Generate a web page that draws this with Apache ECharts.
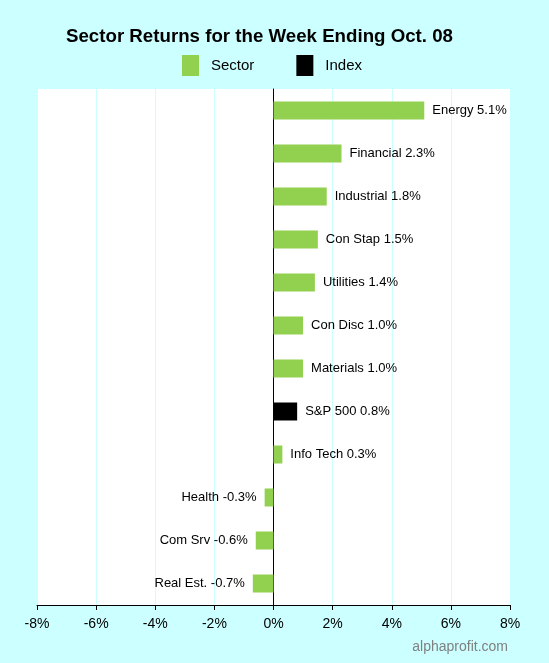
<!DOCTYPE html>
<html>
<head>
<meta charset="utf-8">
<script src="https://cdn.jsdelivr.net/npm/echarts@6/dist/echarts.min.js"></script>
<style>
  html, body { margin: 0; padding: 0; background: #ccffff; }
  #chart { width: 549px; height: 663px; }
</style>
</head>
<body>
<div id="chart"></div>
<script>
// 板块名称（从上到下）
var sectors = ['Energy', 'Financial', 'Industrial', 'Con Stap', 'Utilities', 'Con Disc', 'Materials', 'S&P 500', 'Info Tech', 'Health', 'Com Srv', 'Real Est.']
// 周收益率 %
var returns = [5.1, 2.3, 1.8, 1.5, 1.4, 1.0, 1.0, 0.8, 0.3, -0.3, -0.6, -0.7]
var indexName = 'S&P 500'
var tickLabels = ['-8%', '-6%', '-4%', '-2%', '0%', '2%', '4%', '6%', '8%']

var chart = echarts.init(document.getElementById('chart'))

function makeItem (v, i) {
  return {
    value: v,
    label: {
      show: true,
      position: v >= 0 ? 'right' : 'left',
      distance: 8,
      color: '#000',
      fontSize: 13,
      fontFamily: 'Liberation Sans, Arial',
      formatter: sectors[i] + ' ' + v.toFixed(1) + '%'
    }
  }
}

var sectorData = returns.map(function (v, i) {
  return sectors[i] === indexName ? '-' : makeItem(v, i)
})
var indexData = returns.map(function (v, i) {
  return sectors[i] === indexName ? makeItem(v, i) : '-'
})

chart.setOption({
  backgroundColor: '#ccffff',
  animation: false,
  textStyle: { fontFamily: 'Liberation Sans, Arial' },
  title: {
    text: 'Sector Returns for the Week Ending Oct. 08',
    left: 61,
    top: 22,
    textStyle: { fontSize: 18.7, fontWeight: 'bold', color: '#000', fontFamily: 'Liberation Sans, Arial' }
  },
  legend: {
    top: 55,
    left: 182,
    padding: 0,
    itemWidth: 17,
    itemHeight: 21,
    itemGap: 42,
    icon: 'rect',
    textStyle: { fontSize: 15, color: '#000', padding: [0, 0, 0, 7] },
    data: ['Sector', 'Index']
  },
  grid: { left: 37, right: 39, top: 89, bottom: 58, backgroundColor: '#fff', show: true, borderWidth: 0 },
  xAxis: {
    type: 'value',
    min: -8,
    max: 8,
    interval: 2,
    axisLine: { show: true, lineStyle: { color: '#000' } },
    axisTick: { show: true, length: 5, lineStyle: { color: '#000' } },
    axisLabel: {
      color: '#000',
      fontSize: 14,
      margin: 12,
      formatter: function (v) { return tickLabels[(v + 8) / 2] }
    },
    splitLine: { show: true, lineStyle: { color: '#ccffff', width: 1 } }
  },
  yAxis: {
    type: 'category',
    inverse: true,
    data: sectors,
    axisLine: { show: true, onZero: true, lineStyle: { color: '#000' } },
    axisTick: { show: false },
    axisLabel: { show: false },
    splitLine: { show: false }
  },
  series: [
    {
      name: 'Sector',
      type: 'bar',
      stack: 'r',
      barWidth: 18,
      itemStyle: { color: '#92d050' },
      data: sectorData
    },
    {
      name: 'Index',
      type: 'bar',
      stack: 'r',
      barWidth: 18,
      itemStyle: { color: '#000' },
      data: indexData
    }
  ],
  graphic: [{
    type: 'text',
    right: 41,
    top: 640,
    style: { text: 'alphaprofit.com', fill: '#808080', fontSize: 14, fontFamily: 'Liberation Sans, Arial' }
  }]
})
</script>
</body>
</html>
